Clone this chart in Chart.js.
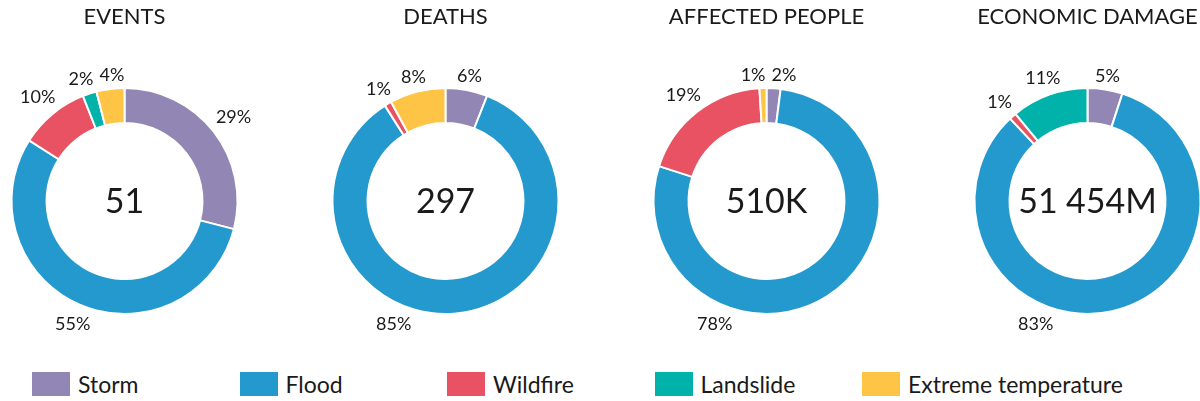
<!DOCTYPE html>
<html>
<head>
<meta charset="utf-8">
<script src="https://cdn.jsdelivr.net/npm/chart.js@4.4.1/dist/chart.umd.min.js"></script>
<style>
  html, body { margin: 0; padding: 0; background: #fff; width: 1200px; height: 401px; overflow: hidden; }
  body { font-family: Lato, sans-serif; color: #1a1a1a; position: relative; }
  .fila { position: absolute; left: -36px; top: 0; display: flex; }
  .dona { width: 321px; height: 340px; position: relative; }
  .leyenda { position: absolute; top: 372px; left: 32px; display: flex; }
  .item { display: flex; align-items: center; width: 207.5px; height: 24px; font-size: 23px; white-space: nowrap; }
  .caja { width: 38px; height: 24px; margin-right: 8px; flex: none; }
</style>
</head>
<body>
<div class="fila" id="fila"></div>
<div class="leyenda" id="leyenda"></div>

<script>
// Datos: porcentaje de cada tipo de desastre en cada indicador
const categorias = ['Storm', 'Flood', 'Wildfire', 'Landslide', 'Extreme temperature'];
const colores = ['#9286b4', '#2499cd', '#e95263', '#00b2a9', '#fdc446'];

const titulos = ['EVENTS', 'DEATHS', 'AFFECTED PEOPLE', 'ECONOMIC DAMAGE'];
const totales = ['51', '297', '510K', '51\u202F454M'];

const eventos   = [29, 55, 10, 2, 4];
const muertes   = [6, 85, 1, 0, 8];
const afectados = [2, 78, 19, 0, 1];
const danos     = [5, 83, 1, 11, 0];

const series = [eventos, muertes, afectados, danos];

const FUENTE = 'Lato, sans-serif';
const TINTA = '#1a1a1a';

// Texto central + etiquetas de porcentaje alrededor del anillo
const etiquetasDona = {
    id: 'etiquetasDona',
    afterDatasetsDraw(chart, args, opts) {
        const ctx = chart.ctx;
        const meta = chart.getDatasetMeta(0);
        const valores = chart.data.datasets[0].data;
        const total = valores.reduce((a, b) => a + b, 0);
        const { x, y, outerRadius } = meta.data[0].getProps(['x', 'y', 'outerRadius'], true);

        ctx.save();
        ctx.fillStyle = TINTA;
        ctx.textAlign = 'center';
        ctx.textBaseline = 'middle';

        ctx.font = `34px ${FUENTE}`;
        ctx.fillText(opts.centro, x, y + 1);

        ctx.font = `18px ${FUENTE}`;
        const items = [];
        meta.data.forEach((arc, i) => {
            const v = valores[i];
            if (!v) return;
            const p = arc.getProps(['startAngle', 'endAngle'], true);
            let ang = (p.startAngle + p.endAngle) / 2;
            // la porción dominante lleva su etiqueta abajo a la izquierda
            if (v / total > 0.5) ang = opts.anguloFijo;
            const texto = v + '%';
            const w = ctx.measureText(texto).width;
            const cx = Math.cos(ang), cy = Math.sin(ang);
            const r = outerRadius + 8 + (w / 2) * Math.abs(cx) + 5 * Math.abs(cy);
            items.push({ texto, w, x: x + r * cx, y: y + r * cy });
        });

        // separar etiquetas que se pisan
        for (let pasada = 0; pasada < 4; pasada++) {
            for (let i = 0; i < items.length; i++) {
                for (let j = i + 1; j < items.length; j++) {
                    const a = items[i], b = items[j];
                    const minX = (a.w + b.w) / 2 + 6;
                    const dx = b.x - a.x;
                    if (Math.abs(dx) < minX && Math.abs(b.y - a.y) < 16) {
                        const mover = (minX - Math.abs(dx)) / 2;
                        const signo = dx >= 0 ? 1 : -1;
                        a.x -= mover * signo;
                        b.x += mover * signo;
                    }
                }
            }
        }

        items.forEach(it => ctx.fillText(it.texto, it.x, it.y + 1));
        ctx.restore();
    }
};

function crearDona(i) {
    const caja = document.createElement('div');
    caja.className = 'dona';
    const lienzo = document.createElement('canvas');
    caja.appendChild(lienzo);
    document.getElementById('fila').appendChild(caja);

    new Chart(lienzo, {
        type: 'doughnut',
        data: {
            labels: categorias,
            datasets: [{
                data: series[i],
                backgroundColor: colores,
                borderColor: '#ffffff',
                borderWidth: c => (c.raw ? 2 : 0),
                hoverOffset: 0
            }]
        },
        options: {
            responsive: true,
            maintainAspectRatio: false,
            animation: false,
            cutout: '69%',
            events: [],
            layout: { padding: { left: 46.5, right: 46.5, top: 0, bottom: 25 } },
            plugins: {
                legend: { display: false },
                tooltip: { enabled: false },
                title: {
                    display: true,
                    text: titulos[i],
                    color: TINTA,
                    font: { family: FUENTE, size: 22, weight: 'normal', lineHeight: 1.2 },
                    padding: { top: 4, bottom: 56.6 }
                },
                etiquetasDona: {
                    centro: totales[i],
                    anguloFijo: 113 * Math.PI / 180
                }
            }
        },
        plugins: [etiquetasDona]
    });
}

function crearLeyenda() {
    const ley = document.getElementById('leyenda');
    categorias.forEach((nombre, i) => {
        const item = document.createElement('div');
        item.className = 'item';
        const cuadro = document.createElement('span');
        cuadro.className = 'caja';
        cuadro.style.background = colores[i];
        const texto = document.createElement('span');
        texto.textContent = nombre;
        item.appendChild(cuadro);
        item.appendChild(texto);
        ley.appendChild(item);
    });
}

document.addEventListener('DOMContentLoaded', () => {
    titulos.forEach((t, i) => crearDona(i));
    crearLeyenda();
});
</script>
</body>
</html>
